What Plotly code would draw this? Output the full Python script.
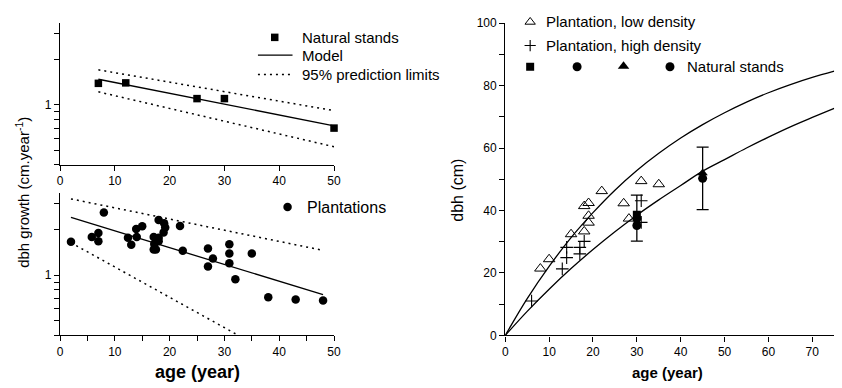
import plotly.graph_objects as go

# ---------------- data ----------------
# top-left: natural stands
nat_age = [7, 12, 25, 30, 50]
nat_growth = [1.39, 1.40, 1.10, 1.10, 0.70]
top_line_age = [7, 50]
top_model = [1.48, 0.725]
top_upper = [1.71, 0.915]
top_lower = [1.22, 0.526]

# bottom-left: plantations
plant_age = [2, 5.8, 7, 7, 8, 12.4, 13, 13.9, 14, 15, 17.1, 17.2, 17.1, 17.5, 18, 18, 18,
             19, 19.2, 18.9, 21.9, 22.4, 27, 27, 27.9, 30.9, 30.9, 30.9, 32, 35, 38, 43, 48]
plant_growth = [1.665, 1.79, 1.90, 1.68, 2.60, 1.77, 1.59, 2.02, 1.79, 2.11, 1.79, 1.61, 1.48, 1.48,
                2.32, 1.77, 1.68, 2.21, 2.07, 1.92, 2.12, 1.45, 1.50, 1.14, 1.29, 1.60, 1.39, 1.20,
                0.94, 1.39, 0.714, 0.69, 0.68]
bot_line_age = [2, 48]
bot_model = [2.41, 0.743]
bot_upper = [3.20, 1.46]
bot_lower_age = [2, 32.5]
bot_lower = [1.64, 0.40]

# right: dbh vs age
low_age = [8, 10, 15, 18, 19, 19, 18, 19, 22, 27, 28.2, 31, 35]
low_dbh = [21.4, 24.4, 32.4, 33.3, 36.1, 38.3, 41.4, 42.4, 46.2, 42.3, 37.4, 49.4, 48.4]
high_age = [6, 13, 14, 14, 17, 17, 18, 31, 31]
high_dbh = [11, 21.3, 24.9, 28.2, 28.2, 26.1, 30.1, 43.1, 36.2]
ns_sq_age, ns_sq_dbh = [30], [38.6]
ns_c1_age, ns_c1_dbh = [30, 45], [37.4, 50.3]
ns_tri_age, ns_tri_dbh = [45], [52.0]
ns_c2_age, ns_c2_dbh = [30], [35.2]
err_age = [30, 45]
err_mid = [37.6, 50.3]
err_lo = [30.2, 40.3]
err_hi = [44.9, 60.3]
curve_age = [0, 5, 10, 15, 20, 25, 30, 35, 40, 45, 50, 55, 60, 65, 70, 75]
curve_upper = [0, 11.8, 22.1, 31.3, 39.3, 46.5, 52.8, 58.3, 63.2, 67.5, 71.3, 74.7, 77.7, 80.3, 82.6, 84.6]
curve_lower = [0, 7.7, 14.8, 21.4, 27.5, 33.2, 38.5, 43.4, 48.0, 52.6, 56.3, 60.0, 63.5, 66.8, 69.8, 72.7]

log_ticks = [0.4, 0.5, 0.6, 0.7, 0.8, 0.9, 1, 2, 3]
log_text = ["", "", "", "", "", "", "1", "", ""]

FONT = "Liberation Sans, Arial, sans-serif"
W, H = 842, 388
BLACK = "black"
DOT = "2px,4px"

fig = go.Figure()

# ---- top-left ----
fig.add_trace(go.Scatter(x=top_line_age, y=top_upper, mode="lines", line=dict(color=BLACK, width=1.5, dash=DOT), xaxis="x", yaxis="y"))
fig.add_trace(go.Scatter(x=top_line_age, y=top_lower, mode="lines", line=dict(color=BLACK, width=1.5, dash=DOT), xaxis="x", yaxis="y"))
fig.add_trace(go.Scatter(x=top_line_age, y=top_model, mode="lines", line=dict(color=BLACK, width=1.3), xaxis="x", yaxis="y"))
fig.add_trace(go.Scatter(x=nat_age, y=nat_growth, mode="markers", marker=dict(symbol="square", size=7.5, color=BLACK),
                         cliponaxis=False, xaxis="x", yaxis="y"))

# ---- bottom-left ----
fig.add_trace(go.Scatter(x=bot_line_age, y=bot_upper, mode="lines", line=dict(color=BLACK, width=1.5, dash=DOT), xaxis="x2", yaxis="y2"))
fig.add_trace(go.Scatter(x=bot_lower_age, y=bot_lower, mode="lines", line=dict(color=BLACK, width=1.5, dash=DOT), xaxis="x2", yaxis="y2"))
fig.add_trace(go.Scatter(x=bot_line_age, y=bot_model, mode="lines", line=dict(color=BLACK, width=1.3), xaxis="x2", yaxis="y2"))
fig.add_trace(go.Scatter(x=plant_age, y=plant_growth, mode="markers", marker=dict(symbol="circle", size=8.5, color=BLACK),
                         cliponaxis=False, xaxis="x2", yaxis="y2"))

# ---- right ----
fig.add_trace(go.Scatter(x=curve_age, y=curve_upper, mode="lines", line=dict(color=BLACK, width=1.3, shape="spline"), xaxis="x3", yaxis="y3"))
fig.add_trace(go.Scatter(x=curve_age, y=curve_lower, mode="lines", line=dict(color=BLACK, width=1.3, shape="spline"), xaxis="x3", yaxis="y3"))
fig.add_trace(go.Scatter(x=low_age, y=low_dbh, mode="markers",
                         marker=dict(symbol="triangle-up-open", size=10, color=BLACK, line=dict(width=1, color=BLACK)),
                         cliponaxis=False, xaxis="x3", yaxis="y3"))
fig.add_trace(go.Scatter(x=high_age, y=high_dbh, mode="markers",
                         marker=dict(symbol="cross-thin", size=9, color=BLACK, line=dict(width=1.1, color=BLACK)),
                         cliponaxis=False, xaxis="x3", yaxis="y3"))
fig.add_trace(go.Scatter(x=err_age, y=err_mid, mode="markers", marker=dict(size=1, color="rgba(0,0,0,0)"),
                         error_y=dict(type="data", symmetric=False,
                                      array=[h - m for h, m in zip(err_hi, err_mid)],
                                      arrayminus=[m - l for m, l in zip(err_mid, err_lo)],
                                      color=BLACK, thickness=1.3, width=6),
                         xaxis="x3", yaxis="y3"))
fig.add_trace(go.Scatter(x=ns_sq_age, y=ns_sq_dbh, mode="markers", marker=dict(symbol="square", size=8, color=BLACK), xaxis="x3", yaxis="y3"))
fig.add_trace(go.Scatter(x=ns_c1_age, y=ns_c1_dbh, mode="markers", marker=dict(symbol="circle", size=9, color=BLACK), xaxis="x3", yaxis="y3"))
fig.add_trace(go.Scatter(x=ns_tri_age, y=ns_tri_dbh, mode="markers", marker=dict(symbol="triangle-up", size=9, color=BLACK), xaxis="x3", yaxis="y3"))
fig.add_trace(go.Scatter(x=ns_c2_age, y=ns_c2_dbh, mode="markers", marker=dict(symbol="circle", size=9, color=BLACK), xaxis="x3", yaxis="y3"))

# ---- legend glyphs on a pixel overlay (x4/y4) ----
def glyph(x, y, **marker):
    fig.add_trace(go.Scatter(x=[x], y=[y], mode="markers", marker=marker, cliponaxis=False, xaxis="x4", yaxis="y4"))

glyph(275, 31.5, symbol="square", size=7.5, color=BLACK)
fig.add_trace(go.Scatter(x=[258, 293], y=[50, 50], mode="lines", line=dict(color=BLACK, width=1.3), xaxis="x4", yaxis="y4"))
fig.add_trace(go.Scatter(x=[258, 293], y=[70, 70], mode="lines", line=dict(color=BLACK, width=1.5, dash=DOT), xaxis="x4", yaxis="y4"))
glyph(288, 207.5, symbol="circle", size=8.5, color=BLACK)
glyph(533.5, 15.5, symbol="triangle-up-open", size=9, color=BLACK, line=dict(width=1, color=BLACK))
glyph(533.5, 40, symbol="cross-thin", size=8, color=BLACK, line=dict(width=1.1, color=BLACK))
glyph(533.5, 62, symbol="square", size=8, color=BLACK)
glyph(581, 62, symbol="circle", size=9, color=BLACK)
glyph(628, 61.5, symbol="triangle-up", size=10, color=BLACK)
glyph(675, 62, symbol="circle", size=9, color=BLACK)

annotations = []
def label(text, x, y, size, xanchor="left", angle=0, bold=False):
    t = f"<b>{text}</b>" if bold else text
    annotations.append(dict(text=t, x=x, y=y, xref="x4", yref="y4", showarrow=False,
                            xanchor=xanchor, yanchor="middle", textangle=angle,
                            font=dict(family=FONT, size=size, color=BLACK)))

label("Natural stands", 301, 31.5, 15)
label("Model", 301, 50, 15)
label("95% prediction limits", 301, 70, 15)
label("Plantations", 306, 208, 16)
label("Plantation, low density", 548, 15.5, 15)
label("Plantation, high density", 548, 40, 15)
label("Natural stands", 690, 62, 15)
label("dbh growth (cm.year<sup>-1</sup>)", 19, 192, 15, xanchor="center", angle=-90)
label("age (year)", 197, 379, 18, xanchor="center", bold=True)
label("dbh (cm)", 460, 190, 16, xanchor="center", angle=-90)
label("age (year)", 672, 379, 15, xanchor="center", bold=True)

axis_common = dict(showline=True, linecolor=BLACK, linewidth=1.3, ticks="outside", ticklen=5,
                   tickwidth=1.3, tickcolor=BLACK, showgrid=False, zeroline=False,
                   tickfont=dict(family=FONT, size=12, color=BLACK), mirror=False)

def py(p):
    return 1 - p / H

fig.update_layout(
    width=W, height=H,
    margin=dict(l=0, r=0, t=0, b=0),
    paper_bgcolor="white", plot_bgcolor="rgba(0,0,0,0)",
    showlegend=False,
    annotations=annotations,
    xaxis=dict(domain=[57.7 / W, 335 / W], range=[0, 50], anchor="y",
               tickvals=[0, 10, 20, 30, 40, 50], **axis_common),
    yaxis=dict(domain=[py(163.5), py(16.7)], type="log", range=[-0.39794, 0.54407], anchor="x",
               tickvals=log_ticks, ticktext=log_text, **axis_common),
    xaxis2=dict(domain=[57.7 / W, 335 / W], range=[0, 50], anchor="y2",
                tickvals=[0, 5, 10, 15, 20, 25, 30, 35, 40, 45, 50],
                ticktext=["0", "", "10", "", "20", "", "30", "", "40", "", "50"], **axis_common),
    yaxis2=dict(domain=[py(340.5), py(193)], type="log", range=[-0.39794, 0.54407], anchor="x2",
                tickvals=log_ticks, ticktext=log_text, **axis_common),
    xaxis3=dict(domain=[508.3 / W, 841.2 / W], range=[0, 75], anchor="y3",
                tickvals=[0, 10, 20, 30, 40, 50, 60, 70], **axis_common),
    yaxis3=dict(domain=[py(340.7), py(16.7)], range=[0, 100], anchor="x3",
                tickvals=list(range(0, 101, 10)),
                ticktext=["0", "", "20", "", "40", "", "60", "", "80", "", "100"], **axis_common),
    xaxis4=dict(domain=[0, 1], range=[0, W], visible=False, anchor="y4"),
    yaxis4=dict(domain=[0, 1], range=[H, 0], visible=False, anchor="x4"),
)

fig.write_html("out.html")
